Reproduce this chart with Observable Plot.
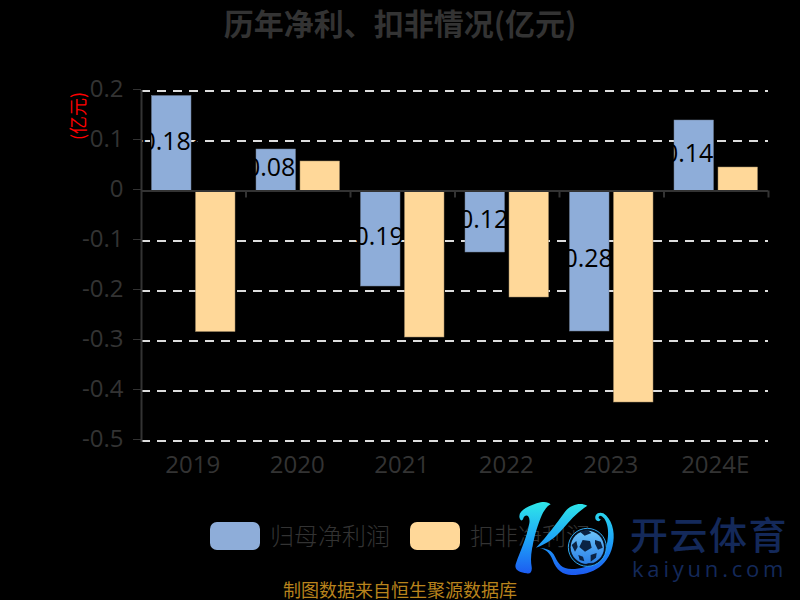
<!DOCTYPE html>
<html><head><meta charset="utf-8">
<script src="https://cdn.jsdelivr.net/npm/d3@7"></script>
<script src="https://cdn.jsdelivr.net/npm/@observablehq/plot@0.6"></script>
<style>
html,body{margin:0;padding:0;background:#000;width:800px;height:600px;overflow:hidden}
#wrap{position:relative;width:800px;height:600px;font-family:"Noto Sans CJK SC","Noto Sans",sans-serif}
#wrap svg.plot{position:absolute;left:0;top:0;background:#000}
.abs{position:absolute;white-space:nowrap}
</style></head><body>
<div id="wrap"></div>
<script>
const years = ["2019","2020","2021","2022","2023","2024E"];
const netProfit = [0.19,0.083,-0.191,-0.123,-0.281,0.141];
const deducted = [-0.282,0.059,-0.293,-0.213,-0.423,0.047];
const labels = ["0.188","0.082","-0.191","-0.123","-0.281","0.141"];
const yTicks = [0.2,0.1,0,-0.1,-0.2,-0.3,-0.4,-0.5];
const gridTicks = yTicks.filter(d=>d!==0);
const ink = "#333";
const font = "'Open Sans','Noto Sans',sans-serif";

const table = years.map((year,i)=>({year,a:netProfit[i],b:deducted[i],label:labels[i]}));

const chart = Plot.plot({
  width:800,height:600,marginLeft:141,marginRight:32,marginTop:90.5,marginBottom:159.5,
  style:{background:"#000",fontFamily:font},
  x:{type:"band",domain:years,padding:0,round:false,axis:null},
  y:{domain:[-0.5,0.2],axis:null},
  marks:[
    Plot.ruleY(gridTicks,{stroke:"#ddd",strokeWidth:2,strokeDasharray:"9,7"}),
    Plot.barY(table,{x:"year",y:"a",fill:"#8eadd9",stroke:"#6f7f96",strokeWidth:.5,insetLeft:32.5,insetRight:32.5,dx:-22}),
    Plot.text(table,{x:"year",y:d=>d.a/2,text:"label",fill:"#000",fontSize:25,dx:-20.5,dy:-2,fontFamily:font}),
    Plot.barY(table,{x:"year",y:"b",fill:"#ffd899",stroke:"#a08a66",strokeWidth:.5,insetLeft:32.5,insetRight:32.5,dx:22}),
    Plot.frame({anchor:"left",stroke:ink,strokeWidth:2}),
    Plot.ruleY([0],{stroke:ink,strokeWidth:2}),
    Plot.ruleX(years,{x:d=>d,y1:0,y2:-0.014,stroke:ink,strokeWidth:2,dx:52.25}),
    Plot.axisY({ticks:yTicks,tickSize:8,tickPadding:10,fontSize:24,color:ink,tickFormat:d=>String(d),label:null,fontFamily:font,dy:-1.5}),
    Plot.text(years,{x:d=>d,y:-0.5,text:d=>d,fill:ink,fontSize:24,dy:24,dx:-1,fontFamily:font,lineAnchor:"middle"}),
    Plot.text(["(亿元)"],{frameAnchor:"top-left",dx:-69,dy:49,rotate:-90,fill:"#f00",fontSize:18,fontFamily:"'Noto Sans CJK SC'"})
  ]
});
const wrap = document.getElementById("wrap");
wrap.appendChild(chart);

function add(html){const t=document.createElement("template");t.innerHTML=html.trim();wrap.appendChild(t.content.firstChild);}
add(`<div class="abs" style="left:0;width:800px;text-align:center;top:2px;line-height:40px;font-size:30px;font-weight:700;color:${ink}">历年净利、扣非情况(亿元)</div>`);
add(`<div class="abs" style="left:210px;top:522px;width:50px;height:28px;border-radius:7px;background:#8eadd9"></div>`);
add(`<div class="abs" style="left:270px;top:517px;font-size:24px;font-weight:300;color:${ink}">归母净利润</div>`);
add(`<div class="abs" style="left:410px;top:522px;width:50px;height:28px;border-radius:7px;background:#ffd899"></div>`);
add(`<div class="abs" style="left:470px;top:517px;font-size:24px;font-weight:300;color:${ink}">扣非净利润</div>`);
add(`<div class="abs" style="left:0;width:800px;text-align:center;top:580px;line-height:18px;font-size:18px;color:#b8831c">制图数据来自恒生聚源数据库</div>`);
add(`<div class="abs" style="left:630px;top:514px;line-height:38px;font-size:38px;font-weight:500;letter-spacing:1.5px;color:#14295a">开云体育</div>`);
add(`<div class="abs" style="left:632px;top:557px;line-height:22px;font-size:22px;font-weight:500;letter-spacing:3.8px;color:#14295a;font-family:'Open Sans'">kaiyun.com</div>`);
add(`<svg class="abs" style="left:500px;top:495px" width="130" height="105" viewBox="0 0 390 315">
<defs>
<linearGradient id="g" gradientUnits="userSpaceOnUse" x1="0" y1="20" x2="0" y2="245"><stop offset="0" stop-color="#2fe8e8"/><stop offset=".5" stop-color="#1ea6f8"/><stop offset="1" stop-color="#1c55f0"/></linearGradient>
<linearGradient id="b" x1="0" y1="0" x2="0" y2="1"><stop offset="0" stop-color="#6cc4f8"/><stop offset="1" stop-color="#2a80e8"/></linearGradient>
</defs>
<path fill="url(#g)" d="M60 72C50 50 80 35 110 25C130 18 145 20 152 28C130 40 120 70 105 120C95 160 90 190 95 215C97 228 92 238 80 235C60 232 40 225 48 205C60 170 80 130 88 85C92 60 75 55 70 70C68 78 62 78 60 72Z"/>
<path fill="url(#g)" d="M262 32C240 20 210 30 195 50C170 85 140 125 108 158C140 148 170 125 190 100C210 75 235 50 262 32Z"/>
<path fill="url(#g)" d="M118 160C135 160 150 175 158 195C168 225 190 240 215 240C280 240 330 210 340 140C345 110 335 70 310 55C295 48 280 60 288 75C292 80 300 80 302 72C296 72 293 65 300 62C318 65 330 100 322 140C312 190 270 222 215 222C185 222 175 205 165 185C155 165 140 160 118 160Z"/>
<circle cx="262" cy="157" r="57" fill="#04101f" stroke="#2fa8ee" stroke-width="3"/>
<circle cx="262" cy="157" r="50" fill="url(#b)"/>
<path fill="#0b2344" d="M248 135l22 3 5 20-20 12-17-14zM215 150l14-12 4 18-8 14zM285 135l17 5 6 18-14 6-9-18zM235 180l14 5 4 14-14-4zM272 180l18-6-2 14-16 12zM240 110l22-6 12 10-20 8zM258 205l22-2-8 6z"/>
</svg>`);
</script>
</body></html>
